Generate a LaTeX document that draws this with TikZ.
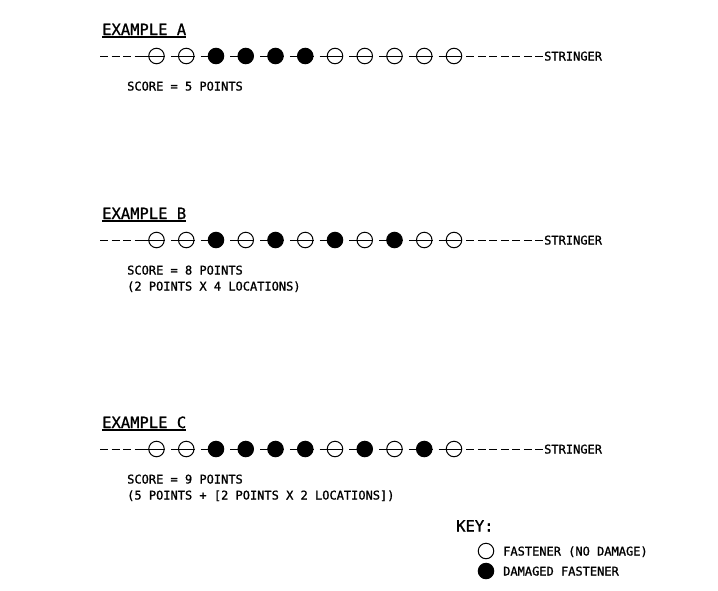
\documentclass[tikz,border=0pt]{standalone}
\usepackage{fontspec}
\setmonofont{DejaVu Sans Mono}
\newfontfamily\bodyfont[FakeBold=1.2]{DejaVu Sans Mono}
\newfontfamily\titlefont[FakeBold=1.0]{DejaVu Sans Mono}
\begin{document}
\begin{tikzpicture}[x=1pt,y=-1pt,
  fast/.style={circle,draw,minimum size=15.5pt,inner sep=0pt,line width=1pt},
  seg/.style={line width=1pt},
  lbl/.style={font=\bodyfont\fontsize{12}{14}\selectfont,anchor=base west,inner sep=0pt},
  ttl/.style={font=\titlefont\fontsize{15.5}{18}\selectfont,anchor=base west,inner sep=0pt},
  uline/.style={line width=1.4pt}]
\useasboundingbox[fill=white] (0,0) rectangle (718,590);

\newcommand\stringerrow[3]{%
  \foreach \f [count=\i] in {#3} {
    \node[fast,fill=\f] (#1\i) at ({156.5+29.75*(\i-1)},#2) {};
    \draw[seg] ([xshift=-15.5pt]#1\i.center) -- (#1\i.east);
  }
  \node[lbl] (S#1) at (544,#2+4.5) {STRINGER};
  \draw[seg,dash pattern=on 8pt off 3.5pt] (100,#2) -- ([xshift=-15.5pt]#11.center);
  \draw[seg,dash pattern=on 8pt off 3.5pt] ([xshift=4pt]#111.east) -- ([xshift=-1pt]#111.center -| S#1.west);
}

% Example A
\node[ttl] (tA) at (102,35) {EXAMPLE A};
\draw[uline] ([yshift=-2pt]tA.base west) -- ([yshift=-2pt]tA.base east);
\stringerrow{A}{56}{white,white,black,black,black,black,white,white,white,white,white}
\node[lbl] (sA) at (127,90.5) {SCORE = 5 POINTS};

% Example B
\node[ttl] (tB) at (102,219) {EXAMPLE B};
\draw[uline] ([yshift=-2pt]tB.base west) -- ([yshift=-2pt]tB.base east);
\stringerrow{B}{240}{white,white,black,white,black,white,black,white,black,white,white}
\node[lbl] (sB1) at (127,274.5) {SCORE = 8 POINTS};
\node[lbl] (sB2) at (127,290.5) {(2 POINTS X 4 LOCATIONS)};

% Example C
\node[ttl] (tC) at (102,428) {EXAMPLE C};
\draw[uline] ([yshift=-2pt]tC.base west) -- ([yshift=-2pt]tC.base east);
\stringerrow{C}{449}{white,white,black,black,black,black,white,black,white,black,white}
\node[lbl] (sC1) at (127,483.5) {SCORE = 9 POINTS};
\node[lbl] (sC2) at (127,499.5) {(5 POINTS + [2 POINTS X 2 LOCATIONS])};

% Key
\node[ttl] (key) at (456,531.5) {KEY:};
\node[fast,fill=white] (k1) at (486,551) {};
\node[fast,fill=black] (k2) at (486,571) {};
\node[lbl] (kt1) at (503,555.5) {FASTENER (NO DAMAGE)};
\node[lbl] (kt2) at (503,575.5) {DAMAGED FASTENER};
\end{tikzpicture}
\end{document}
